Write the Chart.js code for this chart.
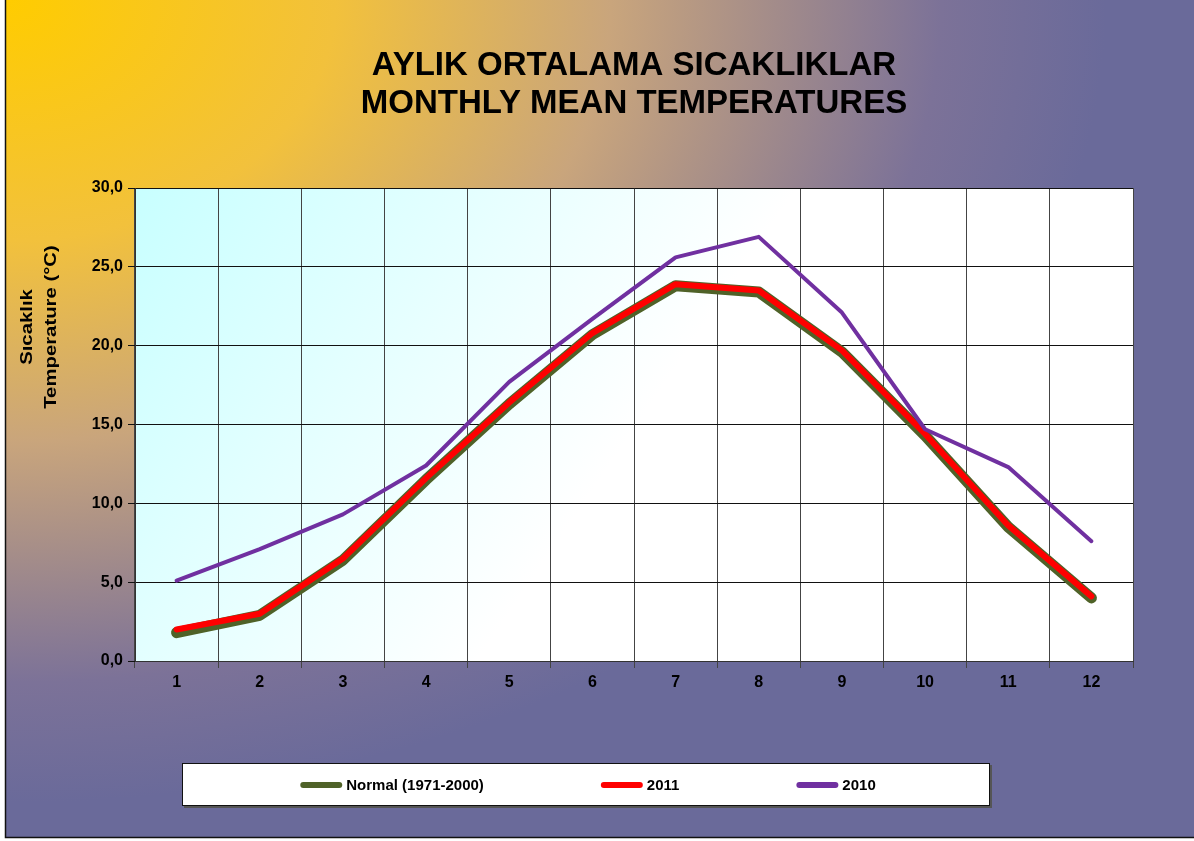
<!DOCTYPE html>
<html>
<head>
<meta charset="utf-8">
<script src="https://cdn.jsdelivr.net/npm/chart.js@4.4.1/dist/chart.umd.min.js"></script>
<style>
  html, body { margin: 0; padding: 0; background: #fff; }
  #wrap { width: 1194px; height: 841px; }
</style>
</head>
<body>
<div id="wrap"><canvas id="tempChart" width="1194" height="841"></canvas></div>
<script>
const months = ['1', '2', '3', '4', '5', '6', '7', '8', '9', '10', '11', '12'];
const normal = [1.8, 2.9, 6.4, 11.5, 16.3, 20.7, 23.8, 23.4, 19.6, 14.3, 8.5, 4.0];
const y2011 = [2.0, 3.0, 6.5, 11.6, 16.4, 20.8, 23.9, 23.5, 19.7, 14.4, 8.6, 4.1];
const y2010 = [5.1, 7.1, 9.3, 12.4, 17.7, 21.7, 25.6, 26.9, 22.1, 14.7, 12.3, 7.6];
const yTicks = ['0,0', '5,0', '10,0', '15,0', '20,0', '25,0', '30,0'];

const titleLines = ['AYLIK ORTALAMA SICAKLIKLAR', 'MONTHLY MEAN TEMPERATURES'];
const yTitleLines = ['Sıcaklık', 'Temperature (°C)'];
const fontFam = '"Liberation Sans", Arial, sans-serif';

// slide background, plot background and the frame
const backdrop = {
    id: 'backdrop',
    beforeDraw(chart) {
        const ctx = chart.ctx;
        const a = chart.chartArea;
        ctx.save();
        ctx.fillStyle = '#ffffff';
        ctx.fillRect(0, 0, chart.width, chart.height);

        ctx.save();
        ctx.beginPath();
        ctx.rect(6, 0, chart.width - 6, 837);
        ctx.clip();
        ctx.scale(1, 0.73);
        const g = ctx.createRadialGradient(6, 0, 0, 6, 0, 1100);
        g.addColorStop(0, '#ffcc00');
        g.addColorStop(0.3, '#f2c13c');
        g.addColorStop(0.55, '#c9a57c');
        g.addColorStop(0.85, '#7c7298');
        g.addColorStop(1, '#6a6a9a');
        ctx.fillStyle = g;
        ctx.fillRect(0, 0, chart.width, 837 / 0.73);
        ctx.restore();

        ctx.strokeStyle = '#111';
        ctx.lineWidth = 1.5;
        ctx.beginPath();
        ctx.moveTo(5.5, 0);
        ctx.lineTo(5.5, 837.5);
        ctx.lineTo(chart.width, 837.5);
        ctx.stroke();

        const pg = ctx.createLinearGradient(a.left, a.top, a.left + a.width * 0.7, a.bottom);
        pg.addColorStop(0, '#c8ffff');
        pg.addColorStop(0.65, '#ffffff');
        pg.addColorStop(1, '#ffffff');
        ctx.fillStyle = pg;
        ctx.fillRect(a.left, a.top, a.width, a.height);
        ctx.restore();
    }
};

// titles and legend box
const decorations = {
    id: 'decorations',
    afterDraw(chart) {
        const ctx = chart.ctx;
        const a = chart.chartArea;
        ctx.save();
        ctx.fillStyle = '#000';
        ctx.textAlign = 'center';
        ctx.textBaseline = 'middle';
        ctx.font = 'bold 33px ' + fontFam;
        const cx = (a.left + a.right) / 2;
        ctx.fillText(titleLines[0], cx, 66);
        ctx.fillText(titleLines[1], cx, 104);

        // y axis title, two lines, a bit stretched like the original
        ctx.font = 'bold 16px ' + fontFam;
        [28, 52].forEach((tx, i) => {
            ctx.save();
            ctx.translate(tx, 327);
            ctx.rotate(-Math.PI / 2);
            ctx.scale(1.27, 1);
            ctx.fillText(yTitleLines[i], 0, 0);
            ctx.restore();
        });

        // legend
        ctx.fillStyle = '#555';
        ctx.fillRect(184, 765, 808, 43);
        ctx.fillStyle = '#fff';
        ctx.fillRect(182, 763, 808, 43);
        ctx.strokeStyle = '#111';
        ctx.lineWidth = 1;
        ctx.strokeRect(182.5, 763.5, 807, 42);

        ctx.font = 'bold 15px ' + fontFam;
        const sw = 42, gap = 4, spacing = 117;
        const ds = chart.data.datasets;
        const widths = ds.map(d => sw + gap + ctx.measureText(d.label).width);
        const total = widths.reduce((s, w) => s + w, 0) + spacing * (ds.length - 1);
        let x = 588 - total / 2;
        const y = 785;
        ctx.textAlign = 'left';
        ds.forEach((d, i) => {
            ctx.strokeStyle = d.borderColor;
            ctx.lineWidth = 6;
            ctx.lineCap = 'round';
            ctx.beginPath();
            ctx.moveTo(x + 3, y);
            ctx.lineTo(x + sw - 3, y);
            ctx.stroke();
            ctx.fillStyle = '#000';
            ctx.fillText(d.label, x + sw + gap, y + 1);
            x += widths[i] + spacing;
        });
        ctx.restore();
    }
};

const tickFont = { family: fontFam, size: 16, weight: 'bold' };

new Chart(document.getElementById('tempChart'), {
    type: 'line',
    data: {
        labels: months,
        datasets: [{
            label: 'Normal (1971-2000)',
            data: normal,
            borderColor: '#4f6228',
            borderWidth: 11,
            borderCapStyle: 'round',
            borderJoinStyle: 'round',
            pointRadius: 0,
            tension: 0,
            order: 2
        }, {
            label: '2011',
            data: y2011,
            borderColor: '#ff0000',
            borderWidth: 6,
            borderCapStyle: 'round',
            borderJoinStyle: 'round',
            pointRadius: 0,
            tension: 0,
            order: 1
        }, {
            label: '2010',
            data: y2010,
            borderColor: '#7030a0',
            borderWidth: 4,
            borderCapStyle: 'round',
            borderJoinStyle: 'round',
            pointRadius: 0,
            tension: 0,
            order: 0
        }]
    },
    options: {
        responsive: false,
        animation: false,
        layout: { padding: { left: 0, right: 61, top: 188, bottom: 140 } },
        plugins: {
            legend: { display: false },
            title: { display: false },
            tooltip: { enabled: false }
        },
        scales: {
            x: {
                offset: true,
                grid: { offset: true, color: '#444', lineWidth: 1, tickLength: 7 },
                border: { color: '#333' },
                ticks: { color: '#000', font: tickFont, padding: 5 },
                afterFit(scale) { scale.height = 40; }
            },
            y: {
                min: 0,
                max: 30,
                grid: { color: '#111', lineWidth: 1, tickLength: 7 },
                border: { color: '#333' },
                ticks: {
                    stepSize: 5,
                    color: '#000',
                    font: tickFont,
                    padding: 5,
                    callback: (v, i) => yTicks[i]
                },
                afterFit(scale) { scale.width = 135; }
            }
        }
    },
    plugins: [backdrop, decorations]
});
</script>
</body>
</html>
